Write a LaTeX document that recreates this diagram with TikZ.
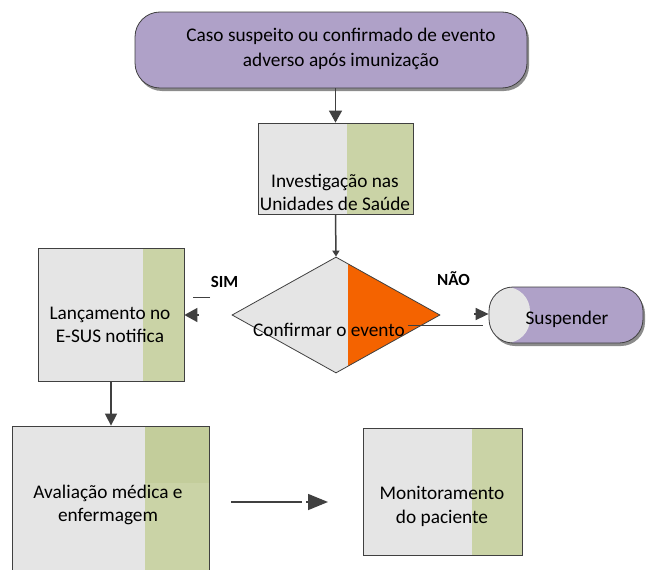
\documentclass[tikz,border=0pt]{standalone}
\usepackage{fontspec}
\setmainfont{Carlito}
\usetikzlibrary{shapes.geometric,arrows.meta,shadows}
\definecolor{lgray}{HTML}{E5E5E5}
\definecolor{lgreen}{HTML}{CAD3A6}
\definecolor{dgreen}{HTML}{C3CD9B}
\definecolor{lpurple}{HTML}{AFA1C8}
\definecolor{orng}{HTML}{F46300}
\definecolor{edge}{HTML}{404040}
\newcommand{\twolines}[2]{\begin{tabular}[t]{@{}c@{}}#1\\#2\end{tabular}}
\begin{document}
\begin{tikzpicture}[x=1pt,y=-1pt,
  box/.style={draw=edge, line width=0.8pt, fill=lgray, inner sep=0pt, rectangle},
  greenfrom/.style={path picture={\fill[lgreen] ([xshift=#1]path picture bounding box.south west) rectangle (path picture bounding box.north east);}},
  pill/.style={draw=edge, line width=0.8pt, fill=lpurple, inner sep=0pt, rectangle, rounded corners=25pt,
    drop shadow={shadow xshift=2pt, shadow yshift=-3pt, fill=black, opacity=0.45}},
  txt/.style={font=\fontsize{19.3}{23}\selectfont, inner sep=0pt, anchor=base, text=black},
  lbl/.style={font=\bfseries\fontsize{17}{20}\selectfont, inner sep=0pt, anchor=base, text=black},
  conn/.style={draw=edge, line width=1.5pt},
]
\fill[white] (0,0) rectangle (646,570);
\useasboundingbox (0,0) rectangle (646,570);

% top pill
\node[pill, minimum width=392pt, minimum height=76pt] (start) at (331,50) {};
\node[txt, font=\fontsize{19.3}{25}\selectfont] (t1) at (341,41.5)
  {\twolines{Caso suspeito ou confirmado de evento}{adverso após imunização}};

% boxes
\node[box, greenfrom=89pt, minimum width=155pt, minimum height=91pt] (b2) at (335.5,168.5) {};
\node[txt] (t2) at (335,187) {\twolines{Investigação nas}{Unidades de Saúde}};

\node[box, greenfrom=105pt, minimum width=146pt, minimum height=133pt] (b3) at (111,314.5) {};
\node[txt] (t3) at (110,319) {\twolines{Lançamento no}{E-SUS notifica}};

\node[box, minimum width=197pt, minimum height=148pt,
  path picture={
    \fill[lgreen] ([xshift=133pt]path picture bounding box.south west) rectangle (path picture bounding box.north east);
    \fill[dgreen] ([xshift=133pt]path picture bounding box.north west) rectangle ([yshift=-57pt]path picture bounding box.north east);
  }] (b4) at (110.5,500) {};
\node[txt] (t4) at (108,498) {\twolines{Avaliação médica e}{enfermagem}};

\node[box, greenfrom=109pt, minimum width=159pt, minimum height=127pt] (b5) at (442.5,491.5) {};
\node[txt, font=\fontsize{19.3}{24}\selectfont] (t5) at (442,499) {\twolines{Monitoramento}{do paciente}};

% decision
\node[diamond, draw=edge, line width=0.8pt, fill=lgray, inner sep=0pt,
  minimum width=208pt, minimum height=116pt,
  path picture={\fill[orng] ([xshift=116pt]path picture bounding box.south west) rectangle (path picture bounding box.north east);}]
  (dec) at (336,315) {};
\node[txt] (td) at (329,336) {Confirmar o evento};

% suspender
\node[pill, minimum width=154pt, minimum height=56pt, rounded corners=24pt,
  path picture={\fill[lgray] (path picture bounding box.south west) rectangle ([xshift=41pt]path picture bounding box.north west);}]
  (susp) at (566,315) {};
\node[txt] (ts) at (567,324) {Suspender};

% labels
\node[lbl] (sim) at (224.5,287) {SIM};
\node[lbl] (nao) at (453.5,285) {NÃO};

% connectors
\draw[conn, -{Triangle[length=12pt,width=13pt]}] (b2.north |- start.south) -- (b2.north);
\draw[conn, -{Triangle[length=6pt,width=7pt]}] (b2.south) -- (dec.north);
\draw[conn, -{Triangle[length=12pt,width=12pt]}] (b3.south) -- (b3.south |- b4.north);

\coordinate (s1) at (210,297.7);
\coordinate (s2) at (193,297.7);
\draw[conn] (s1) -- (s2);
\coordinate (s3) at (199,315);
\draw[conn, -{Triangle[length=13pt,width=14pt]}] (s3) -- (b3.east |- s3);

\coordinate (n1) at (408,325.7);
\coordinate (n2) at (483,325.7);
\draw[conn] (n1) -- (n2);
\coordinate (n3) at (474,314);
\draw[conn, -{Triangle[length=13pt,width=12pt]}] (n3) -- (susp.west |- n3);

\coordinate (m1) at (231,502);
\coordinate (m2) at (302,502);
\draw[conn] (m1) -- (m2);
\coordinate (m3) at (306,502);
\coordinate (m4) at (328,502);
\draw[conn, -{Triangle[length=20pt,width=16pt]}] (m3) -- (m4);
\end{tikzpicture}
\end{document}
